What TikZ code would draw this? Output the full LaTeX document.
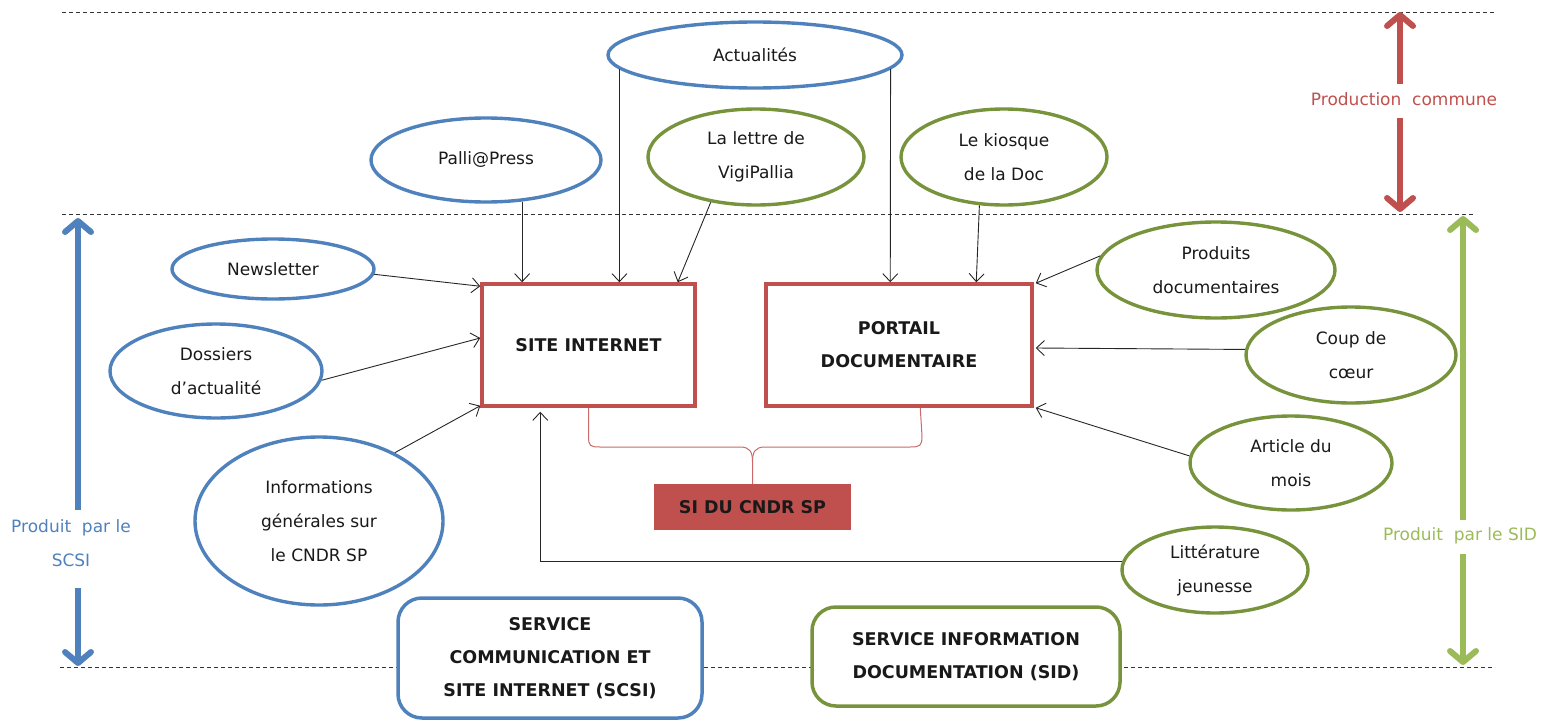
\documentclass[tikz,border=0pt]{standalone}
\usepackage{fontspec}
\setmainfont{DejaVu Sans}
\usetikzlibrary{shapes.geometric,arrows.meta,calc}
\definecolor{cblue}{HTML}{4F81BD}
\definecolor{cred}{HTML}{C0504D}
\definecolor{cgreen}{HTML}{77933C}
\definecolor{lgreen}{HTML}{9BBB59}
\begin{document}
\begin{tikzpicture}[x=1pt,y=-1pt,
  every node/.style={font=\fontsize{17}{34}\selectfont, align=center, text=black!90},
  ell/.style={ellipse, draw, line width=3.4pt, inner sep=0pt},
  bell/.style={ell, draw=cblue},
  gell/.style={ell, draw=cgreen},
  redbox/.style={draw=cred, line width=3.5pt, inner sep=0pt, font=\fontsize{17.5}{33}\selectfont\bfseries},
  servbox/.style={line width=3.5pt, rounded corners=24pt, fill=white, inner sep=0pt, font=\fontsize{17.5}{33}\selectfont\bfseries},
  arr/.style={line width=0.9pt, draw=black!85, -{Straight Barb[length=8pt,width=15pt]}},
  bigarr/.style={line width=6pt, -{Straight Barb[length=11pt,width=26pt,round]}},
  hline/.style={dash pattern=on 4pt off 3pt, line width=0.8pt, draw=black!80},
  brace/.style={draw=cred!85, line width=1pt},
  lbl/.style={font=\fontsize{17}{34}\selectfont},
]
\useasboundingbox (0,0) rectangle (1552,725);

% dashed separators
\coordinate (l1a) at (62,12);   \coordinate (l1b) at (1495,12);
\coordinate (l2a) at (62,214);  \coordinate (l2b) at (1475,214);
\coordinate (l3a) at (60,667);  \coordinate (l3b) at (1495,667);
\draw[hline] (l1a) -- (l1b);
\draw[hline] (l2a) -- (l2b);
\draw[hline] (l3a) -- (l3b);

% main boxes
\node[redbox, minimum width=213pt, minimum height=122pt] (site) at (588.5,345) {SITE INTERNET};
\node[redbox, minimum width=266pt, minimum height=122pt] (portail) at (899,345) {PORTAIL\\DOCUMENTAIRE};
\node[fill=cred, minimum width=197pt, minimum height=46pt, inner sep=0pt, font=\fontsize{17.5}{33}\selectfont\bfseries] (si) at (752.5,507) {SI DU CNDR SP};

% service boxes
\node[servbox, draw=cblue, minimum width=304pt, minimum height=120pt] (scsi) at (550,658) {SERVICE\\COMMUNICATION ET\\SITE INTERNET (SCSI)};
\node[servbox, draw=cgreen, minimum width=308pt, minimum height=99pt] (sid) at (966,656.5) {SERVICE INFORMATION\\DOCUMENTATION (SID)};

% blue ellipses
\node[bell, minimum width=294pt, minimum height=66pt] (act) at (755,55) {Actualités};
\node[bell, minimum width=230pt, minimum height=84pt] (palli) at (486,160) {Palli@Press};
\node[bell, minimum width=202pt, minimum height=60pt] (news) at (273,269) {Newsletter};
\node[bell, minimum width=212pt, minimum height=94pt] (doss) at (216,371) {Dossiers\\d’actualité};
\node[bell, minimum width=248pt, minimum height=168pt] (info) at (319,521) {Informations\\générales sur\\le CNDR SP};

% green ellipses
\node[gell, minimum width=216pt, minimum height=96pt] (vigi) at (756,157) {La lettre de\\VigiPallia};
\node[gell, minimum width=206pt, minimum height=96pt] (kiosk) at (1004,157) {Le kiosque\\de la Doc};
\node[gell, minimum width=238pt, minimum height=96pt] (prod) at (1216,270) {Produits\\documentaires};
\node[gell, minimum width=210pt, minimum height=96pt] (coup) at (1351,355) {Coup de\\cœur};
\node[gell, minimum width=202pt, minimum height=94pt] (artic) at (1291,463) {Article du\\mois};
\node[gell, minimum width=186pt, minimum height=86pt] (litt) at (1215,570) {Littérature\\jeunesse};

% connectors to SITE INTERNET
\draw[arr] (palli.-49) -- (palli.-49 |- site.north);
\draw[arr] (act.-174) -- (act.-174 |- site.north);
\draw[arr] (vigi.-135) -- ($(site.north east)+(-19,0)$);
\draw[arr] (news.-3) -- ($(site.north west)+(0,4)$);
\draw[arr] (doss.-5) -- ($(site.west)+(0,-7)$);
\draw[arr] (info.42) -- ($(site.south west)+(0,-2)$);
\draw[arr] (litt.175) -| ($(site.south west)+(60,4)$);

% connectors to PORTAIL
\draw[arr] (act.-6) -- ($(portail.north west)+(126,0)$);
\draw[arr] (kiosk.-117) -- ($(portail.north west)+(212,0)$);
\draw[arr] (prod.173) -- ($(portail.north east)+(2,1)$);
\draw[arr] (coup.177) -- ($(portail.east)+(2,3)$);
\draw[arr] (artic.176) -- ($(portail.south east)+(2,0)$);

% brace to SI
\coordinate (pb) at ($(portail.south west)+(156,0)$);
\coordinate (bj) at ($(si.north)+(0,-22)$);
\draw[brace] (site.south) -- (588.5,436) .. controls (588.5,446) and (590,447) .. (600,447) -- (740,447) .. controls (750,447) and (752.5,452) .. (bj) -- (si.north);
\draw[brace] (pb) -- (922,436) .. controls (922,446) and (920,447) .. (910,447) -- (765,447) .. controls (755,447) and (752.5,452) .. (bj);

% side arrows and labels
\node[lbl, text=cred] (pc) at (1404,99) {Production\ \ commune};
\coordinate (pcT) at (1400,12); \coordinate (pcB) at (1400,212);
\draw[bigarr, cred] ($(pc.north -| pcT)+(0,-5)$) -- (pcT);
\draw[bigarr, cred] ($(pc.south -| pcB)+(0,9)$) -- (pcB);

\node[lbl, text=cblue] (ps) at (71,543) {Produit\ \ par le\\SCSI};
\coordinate (psT) at (78,218); \coordinate (psB) at (78,666);
\draw[bigarr, cblue] ($(ps.north -| psT)+(0,-6)$) -- (psT);
\draw[bigarr, cblue] ($(ps.south -| psB)+(0,18)$) -- (psB);

\node[lbl, text=lgreen] (pg) at (1460,536) {Produit\ \ par le SID};
\coordinate (pgT) at (1463,216); \coordinate (pgB) at (1463,665);
\draw[bigarr, lgreen] ($(pg.north -| pgT)+(0,-4)$) -- (pgT);
\draw[bigarr, lgreen] ($(pg.south -| pgB)+(0,6)$) -- (pgB);
\end{tikzpicture}
\end{document}
